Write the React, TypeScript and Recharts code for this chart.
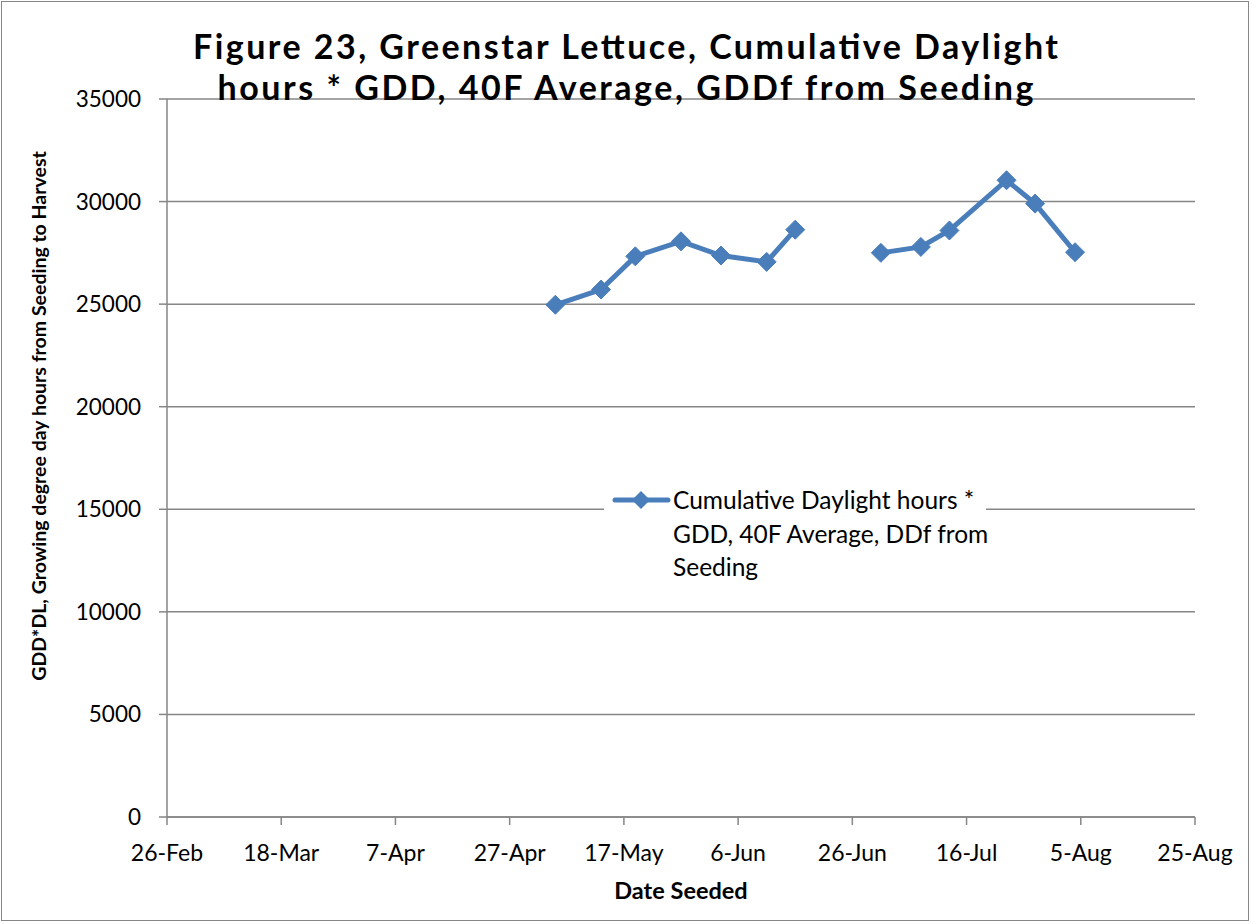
import React from "react";
import { LineChart, Line, XAxis, YAxis, CartesianGrid, Legend } from "recharts";

// ---- data ----
const AXIS_START = "2011-02-26";
const xTickLabels = ["26-Feb", "18-Mar", "7-Apr", "27-Apr", "17-May", "6-Jun", "26-Jun", "16-Jul", "5-Aug", "25-Aug"];
const yTicks = [0, 5000, 10000, 15000, 20000, 25000, 30000, 35000];

const seedDatesA = ["2011-05-05", "2011-05-13", "2011-05-19", "2011-05-27", "2011-06-03", "2011-06-11", "2011-06-16"];
const valuesA = [24970, 25710, 27330, 28060, 27370, 27060, 28630];
const seedDatesB = ["2011-07-01", "2011-07-08", "2011-07-13", "2011-07-23", "2011-07-28", "2011-08-04"];
const valuesB = [27500, 27790, 28590, 31040, 29900, 27530];

const seriesName = "Cumulative Daylight hours * GDD, 40F Average, DDf from Seeding";
const legendLines = ["Cumulative Daylight hours *", "GDD, 40F Average, DDf from", "Seeding"];
const titleLines = ["Figure 23, Greenstar Lettuce, Cumulative Daylight", "hours * GDD, 40F Average, GDDf from Seeding"];
const xTitle = "Date Seeded";
const yTitle = "GDD*DL, Growing degree day hours from Seeding to Harvest";

const DAY = 86400000;
const toDay = (d: string) => Math.round((Date.parse(d) - Date.parse(AXIS_START)) / DAY);
const xTicks = xTickLabels.map((_, i) => i * 20);

const dataA = seedDatesA.map((d, i) => ({ day: toDay(d), value: valuesA[i] }));
const dataB = seedDatesB.map((d, i) => ({ day: toDay(d), value: valuesB[i] }));

const BLUE = "#4A7EBB";
const GREY = "#868686";
const FONT = "Lato, 'Open Sans', sans-serif";

const Diamond = (props: any) => {
  const { cx, cy } = props;
  if (cx == null || cy == null) return null;
  const r = 9.5;
  return (
    <polygon
      points={`${cx},${cy - r} ${cx + r},${cy} ${cx},${cy + r} ${cx - r},${cy}`}
      fill={BLUE}
      stroke={BLUE}
      strokeWidth={1}
    />
  );
};

const LegendContent = () => (
  <div style={{ background: "#fff", width: 382, height: 104, position: "relative", fontFamily: FONT, fontSize: 24.5, color: "#000" }}>
    <svg width={70} height={34} style={{ position: "absolute", left: 0, top: 0 }}>
      <line x1={11} y1={17} x2={64} y2={17} stroke={BLUE} strokeWidth={5} strokeLinecap="round" />
      <polygon points="37,8 46,17 37,26 28,17" fill={BLUE} />
    </svg>
    <div style={{ position: "absolute", left: 69, top: 0, lineHeight: "33.5px", whiteSpace: "nowrap" }}>
      {legendLines.map((l, i) => (
        <div key={i}>{l}</div>
      ))}
    </div>
  </div>
);

export default function App() {
  return (
    <div style={{ position: "absolute", left: 0, top: 0, width: 1252, height: 924, background: "#fff" }}>
      <div style={{ position: "absolute", left: 1, top: 1, width: 1248, height: 920, border: `1px solid ${GREY}`, boxSizing: "border-box" }} />
      <div style={{ position: "absolute", left: 0, top: 0 }}>
        <LineChart width={1252} height={924} margin={{ top: 99, right: 57, bottom: 0, left: 0 }}>
          <CartesianGrid horizontal vertical={false} stroke={GREY} strokeWidth={1.5} />
          <XAxis
            type="number"
            dataKey="day"
            domain={[0, 180]}
            ticks={xTicks}
            interval={0}
            tickFormatter={(v: number) => xTickLabels[Math.round(v / 20)]}
            stroke={GREY}
            strokeWidth={1.5}
            tickSize={8}
            tickMargin={20}
            tick={{ fill: "#000", fontSize: 23, fontFamily: FONT }}
            height={107}
            label={{
              content: (p: any) => {
                const vb = p.viewBox || {};
                return (
                  <text x={vb.x + vb.width / 2} y={vb.y + 82} textAnchor="middle" fontFamily={FONT} fontWeight="bold" fontSize={23.5} fill="#000">
                    {xTitle}
                  </text>
                );
              },
            }}
          />
          <YAxis
            type="number"
            domain={[0, 35000]}
            ticks={yTicks}
            interval={0}
            width={167}
            stroke={GREY}
            strokeWidth={1.5}
            tickSize={8}
            tickMargin={18}
            tick={{ fill: "#000", fontSize: 22.5, fontFamily: FONT }}
            label={{
              content: (p: any) => {
                const vb = p.viewBox || {};
                const cx = 38;
                const cy = vb.y + vb.height / 2 - 42;
                return (
                  <text x={cx} y={cy} transform={`rotate(-90, ${cx}, ${cy})`} textAnchor="middle" dominantBaseline="central" fontFamily={FONT} fontWeight="bold" fontSize={19.5} fill="#000">
                    {yTitle}
                  </text>
                );
              },
            }}
          />
          <Legend
            layout="vertical"
            align="center"
            verticalAlign="middle"
            content={() => <LegendContent />}
            wrapperStyle={{ position: "absolute", left: 604, top: 483, width: 382, height: 104 }}
          />
          <Line data={dataA} dataKey="value" name={seriesName} stroke={BLUE} strokeWidth={5} dot={<Diamond />} activeDot={false} isAnimationActive={false} />
          <Line data={dataB} dataKey="value" name={seriesName} legendType="none" stroke={BLUE} strokeWidth={5} dot={<Diamond />} activeDot={false} isAnimationActive={false} />
        </LineChart>
      </div>
      <svg width={1252} height={130} style={{ position: "absolute", left: 0, top: 0, pointerEvents: "none" }}>
        <text x={625.5} y={59} textAnchor="middle" fontFamily={FONT} fontWeight="bold" fontSize={34} fill="#000" textLength={865} lengthAdjust="spacing">
          {titleLines[0]}
        </text>
        <text x={625.5} y={100} textAnchor="middle" fontFamily={FONT} fontWeight="bold" fontSize={34} fill="#000" textLength={816} lengthAdjust="spacing">
          {titleLines[1]}
        </text>
      </svg>
    </div>
  );
}
